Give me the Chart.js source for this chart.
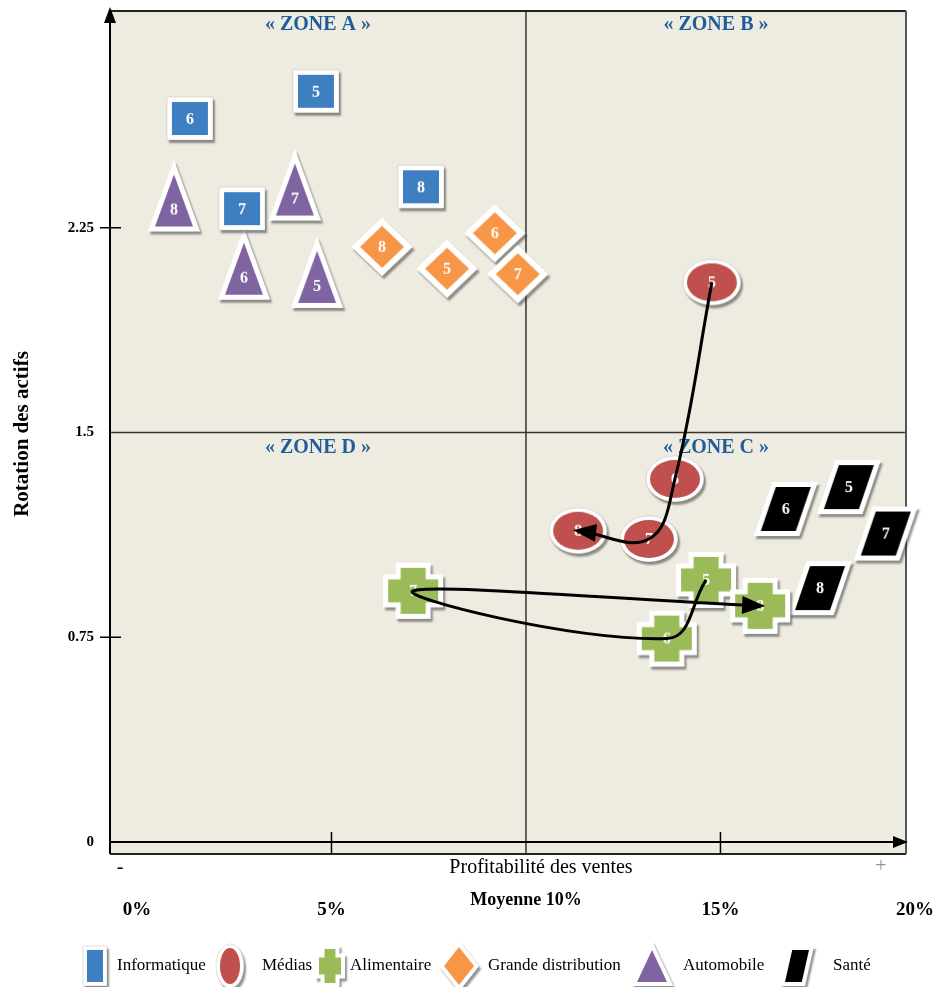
<!DOCTYPE html>
<html>
<head>
<meta charset="utf-8">
<script src="https://cdn.jsdelivr.net/npm/chart.js@4.4.0/dist/chart.umd.min.js"></script>
<style>
    body { margin: 0; background: #ffffff; }
    #wrap { width: 940px; height: 987px; position: relative; }
</style>
</head>
<body>
<div id="wrap"><canvas id="matrixChart"></canvas></div>
<script>
// années (étiquette dans chaque marqueur)
const years = [5, 6, 7, 8];

// profitabilité des ventes (%) / rotation des actifs, par secteur
const infoX = [4.60, 1.36, 2.70, 7.30];
const infoY = [2.75, 2.65, 2.32, 2.40];
const mediasX = [14.78, 13.83, 13.16, 11.34];
const mediasY = [2.05, 1.33, 1.11, 1.14];
const alimX = [14.63, 13.62, 7.10, 16.02];
const alimY = [0.96, 0.745, 0.92, 0.865];
const grandeX = [7.97, 9.20, 9.79, 6.30];
const grandeY = [2.10, 2.23, 2.08, 2.18];
const autoX = [4.63, 2.75, 4.06, 0.95];
const autoY = [2.07, 2.10, 2.39, 2.35];
const santeX = [18.30, 16.68, 19.25, 17.56];
const santeY = [1.30, 1.22, 1.13, 0.93];

const categories = ['Informatique', 'Médias', 'Alimentaire', 'Grande distribution', 'Automobile', 'Santé'];

const xTicks = [0, 5, 10, 15, 20];
const xTickLabels = ['0%', '5%', 'Moyenne 10%', '15%', '20%'];
const yTicks = [0, 0.75, 1.5, 2.25];
const yTickLabels = ['0', '0.75', '1.5', '2.25'];
const xMean = 10;
const yMean = 1.5;

const SERIF = "'Liberation Serif', 'DejaVu Serif', serif";

function shapePath(ctx, kind, w, h) {
    const hw = w / 2, hh = h / 2;
    ctx.beginPath();
    if (kind === 'rect') {
        ctx.rect(-hw, -hh, w, h);
        return;
    }
    if (kind === 'ellipse') {
        ctx.ellipse(0, 0, hw, hh, 0, 0, Math.PI * 2);
        return;
    }
    let pts;
    if (kind === 'cross') {
        const ax = hw * 0.5, ay = hh * 0.5;
        pts = [[-ax, -hh], [ax, -hh], [ax, -ay], [hw, -ay], [hw, ay], [ax, ay],
               [ax, hh], [-ax, hh], [-ax, ay], [-hw, ay], [-hw, -ay], [-ax, -ay]];
    } else if (kind === 'diamond') {
        pts = [[0, -hh], [hw, 0], [0, hh], [-hw, 0]];
    } else if (kind === 'triangle') {
        pts = [[0, -hh], [hw, hh], [-hw, hh]];
    } else {
        const s = w * 0.3;
        pts = [[-hw + s, -hh], [hw, -hh], [hw - s, hh], [-hw, hh]];
    }
    ctx.moveTo(pts[0][0], pts[0][1]);
    pts.slice(1).forEach(p => ctx.lineTo(p[0], p[1]));
    ctx.closePath();
}

function makeIcon(kind, color, w, h, b, label) {
    const pad = 30;
    const c = document.createElement('canvas');
    c.width = w + 2 * b + 2 * pad;
    c.height = h + 2 * b + 2 * pad;
    const ctx = c.getContext('2d');
    ctx.translate(c.width / 2, c.height / 2);

    shapePath(ctx, kind, w, h);
    ctx.shadowColor = 'rgba(60, 60, 60, 0.55)';
    ctx.shadowOffsetX = 2;
    ctx.shadowOffsetY = 3;
    ctx.shadowBlur = 2;
    ctx.lineJoin = 'miter';
    ctx.miterLimit = 4;
    ctx.lineWidth = 2 * b;
    ctx.strokeStyle = '#ffffff';
    ctx.stroke();

    ctx.shadowColor = 'transparent';
    ctx.lineWidth = 1;
    ctx.strokeStyle = 'rgba(0,0,0,0.12)';
    shapePath(ctx, kind, w + 2 * b, h + 2 * b);
    if (kind === 'rect' || kind === 'ellipse') ctx.stroke();

    shapePath(ctx, kind, w, h);
    ctx.fillStyle = color;
    ctx.fill();

    if (label !== undefined) {
        ctx.fillStyle = '#ffffff';
        ctx.font = 'bold 16px ' + SERIF;
        ctx.textAlign = 'center';
        ctx.textBaseline = 'middle';
        const ty = kind === 'triangle' ? h * 0.18 : 1;
        ctx.fillText(String(label), 0, ty);
    }
    return c;
}

// style de chaque secteur : forme, couleur, taille marqueur, taille légende
const sectorStyles = [
    { kind: 'rect', color: '#3D7FC1', w: 36, h: 33, b: 5, lw: 16, lh: 32 },
    { kind: 'ellipse', color: '#C0504D', w: 50, h: 38, b: 4, lw: 20, lh: 36 },
    { kind: 'cross', color: '#9BBB59', w: 50, h: 46, b: 5, lw: 22, lh: 34 },
    { kind: 'diamond', color: '#F79646', w: 44, h: 42, b: 6, lw: 30, lh: 38 },
    { kind: 'triangle', color: '#8064A2', w: 38, h: 52, b: 5, lw: 30, lh: 32 },
    { kind: 'para', color: '#000000', w: 50, h: 44, b: 5, lw: 24, lh: 32 }
];

// emplacement horizontal de la légende (icône, texte)
const legendIconX = [95, 230, 330, 459, 652, 797];
const legendTextX = [117, 262, 350, 488, 683, 833];

const seriesX = [infoX, mediasX, alimX, grandeX, autoX, santeX];
const seriesY = [infoY, mediasY, alimY, grandeY, autoY, santeY];

function toPoints(xs, ys) {
    return xs.map((x, i) => ({ x: x, y: ys[i] }));
}

const markerDatasets = categories.map((name, k) => {
    const st = sectorStyles[k];
    return {
        label: name,
        data: toPoints(seriesX[k], seriesY[k]),
        pointStyle: years.map(yr => makeIcon(st.kind, st.color, st.w, st.h, st.b, yr)),
        pointRadius: 10,
        pointHoverRadius: 10,
        clip: false,
        order: 1
    };
});

const arrowDatasets = [
    { label: 'trajet Médias', data: toPoints(mediasX, mediasY) },
    { label: 'trajet Alimentaire', data: toPoints(alimX, alimY) }
].map(d => Object.assign(d, {
    showLine: true,
    tension: 0.4,
    borderColor: '#000000',
    borderWidth: 3,
    pointRadius: 0,
    fill: false,
    clip: false,
    order: 0,
    arrowHead: true
}));

const legendIcons = sectorStyles.map(st => makeIcon(st.kind, st.color, st.lw, st.lh, 4));

const matrixPlugin = {
    id: 'matrixPlugin',
    beforeDatasetsDraw(chart) {
        const { ctx, chartArea: a, scales: { x, y } } = chart;
        ctx.save();
        ctx.fillStyle = '#EEEBE0';
        ctx.fillRect(a.left, a.top, a.right - a.left, a.bottom - a.top);

        const xm = x.getPixelForValue(xMean);
        const ym = y.getPixelForValue(yMean);
        const y0 = y.getPixelForValue(0);

        ctx.strokeStyle = '#333333';
        ctx.lineWidth = 1.5;
        ctx.beginPath();
        ctx.moveTo(xm, a.top); ctx.lineTo(xm, a.bottom);
        ctx.moveTo(a.left, ym); ctx.lineTo(a.right, ym);
        ctx.stroke();

        // cadre
        ctx.strokeStyle = '#222222';
        ctx.lineWidth = 2;
        ctx.beginPath();
        ctx.moveTo(a.left, a.top); ctx.lineTo(a.right, a.top);
        ctx.moveTo(a.left, a.bottom); ctx.lineTo(a.right, a.bottom);
        ctx.stroke();
        ctx.strokeStyle = '#555555';
        ctx.beginPath();
        ctx.moveTo(a.right, a.top); ctx.lineTo(a.right, a.bottom);
        ctx.stroke();

        // axes
        ctx.strokeStyle = '#000000';
        ctx.lineWidth = 2;
        ctx.beginPath();
        ctx.moveTo(a.left, a.bottom); ctx.lineTo(a.left, a.top + 10);
        ctx.moveTo(a.left, y0); ctx.lineTo(a.right - 10, y0);
        ctx.stroke();
        ctx.fillStyle = '#000000';
        ctx.beginPath();
        ctx.moveTo(a.left, a.top - 4);
        ctx.lineTo(a.left + 6, a.top + 12);
        ctx.lineTo(a.left - 6, a.top + 12);
        ctx.closePath();
        ctx.fill();
        ctx.beginPath();
        ctx.moveTo(a.right + 2, y0);
        ctx.lineTo(a.right - 13, y0 - 6);
        ctx.lineTo(a.right - 13, y0 + 6);
        ctx.closePath();
        ctx.fill();

        // graduations
        ctx.lineWidth = 1.5;
        ctx.beginPath();
        [0.75, 2.25].forEach(v => {
            const py = y.getPixelForValue(v);
            ctx.moveTo(a.left - 10, py); ctx.lineTo(a.left + 11, py);
        });
        [5, 15].forEach(v => {
            const px = x.getPixelForValue(v);
            ctx.moveTo(px, y0 - 10); ctx.lineTo(px, a.bottom);
        });
        ctx.stroke();

        // zones
        ctx.fillStyle = '#1F5C99';
        ctx.font = 'bold 20px ' + SERIF;
        ctx.textAlign = 'center';
        ctx.textBaseline = 'middle';
        const cl = (a.left + xm) / 2, cr = (xm + a.right) / 2;
        ctx.fillText('« ZONE A »', cl, a.top + 14);
        ctx.fillText('« ZONE B »', cr, a.top + 14);
        ctx.fillText('« ZONE D »', cl, ym + 15);
        ctx.fillText('« ZONE C »', cr, ym + 15);
        ctx.restore();
    },
    afterDatasetsDraw(chart) {
        const { ctx } = chart;
        chart.data.datasets.forEach((ds, i) => {
            if (!ds.arrowHead) return;
            const pts = chart.getDatasetMeta(i).data;
            const last = pts[pts.length - 1];
            const prev = pts[pts.length - 2];
            const cx = last.cp1x !== undefined ? last.cp1x : prev.x;
            const cy = last.cp1y !== undefined ? last.cp1y : prev.y;
            const ang = Math.atan2(last.y - cy, last.x - cx);
            ctx.save();
            ctx.translate(last.x, last.y);
            ctx.rotate(ang);
            ctx.fillStyle = '#000000';
            ctx.beginPath();
            ctx.moveTo(5, 0);
            ctx.lineTo(-18, -9);
            ctx.lineTo(-18, 9);
            ctx.closePath();
            ctx.fill();
            ctx.restore();
        });
    },
    afterDraw(chart) {
        const { ctx, scales: { x, y } } = chart;
        ctx.save();
        ctx.fillStyle = '#000000';
        ctx.textBaseline = 'middle';

        // axe vertical
        ctx.font = 'bold 15px ' + SERIF;
        ctx.textAlign = 'right';
        yTicks.forEach((v, i) => {
            ctx.fillText(yTickLabels[i], 94, y.getPixelForValue(v));
        });
        ctx.save();
        ctx.translate(23, 434);
        ctx.rotate(-Math.PI / 2);
        ctx.textAlign = 'center';
        ctx.font = 'bold 21px ' + SERIF;
        ctx.fillText('Rotation des actifs', 0, 0);
        ctx.restore();

        // axe horizontal
        ctx.textAlign = 'center';
        ctx.font = '20px ' + SERIF;
        ctx.fillText('Profitabilité des ventes', 541, 868);
        ctx.fillText('-', 120, 868);
        ctx.fillStyle = '#8A96A4';
        ctx.fillText('+', 881, 867);
        ctx.fillStyle = '#000000';
        xTicks.forEach((v, i) => {
            const isMean = v === xMean;
            ctx.font = (isMean ? 'bold 18px ' : 'bold 19px ') + SERIF;
            ctx.fillText(xTickLabels[i], x.getPixelForValue(v), isMean ? 900 : 910);
        });

        // légende
        ctx.font = '17px ' + SERIF;
        ctx.textAlign = 'left';
        const ly = 966;
        categories.forEach((name, k) => {
            const icon = legendIcons[k];
            ctx.drawImage(icon, legendIconX[k] - icon.width / 2, ly - icon.height / 2);
            ctx.fillText(name, legendTextX[k], ly);
        });
        ctx.restore();
    }
};

new Chart(document.getElementById('matrixChart'), {
    type: 'scatter',
    data: { datasets: arrowDatasets.concat(markerDatasets) },
    options: {
        responsive: true,
        maintainAspectRatio: false,
        animation: false,
        events: [],
        layout: { padding: { left: 110, right: 34, top: 8, bottom: 133 } },
        scales: {
            x: { type: 'linear', min: -0.694, max: 19.77, display: false },
            y: { type: 'linear', min: -0.044, max: 3.044, display: false }
        },
        plugins: {
            legend: { display: false },
            tooltip: { enabled: false }
        }
    },
    plugins: [matrixPlugin]
});
</script>
</body>
</html>
